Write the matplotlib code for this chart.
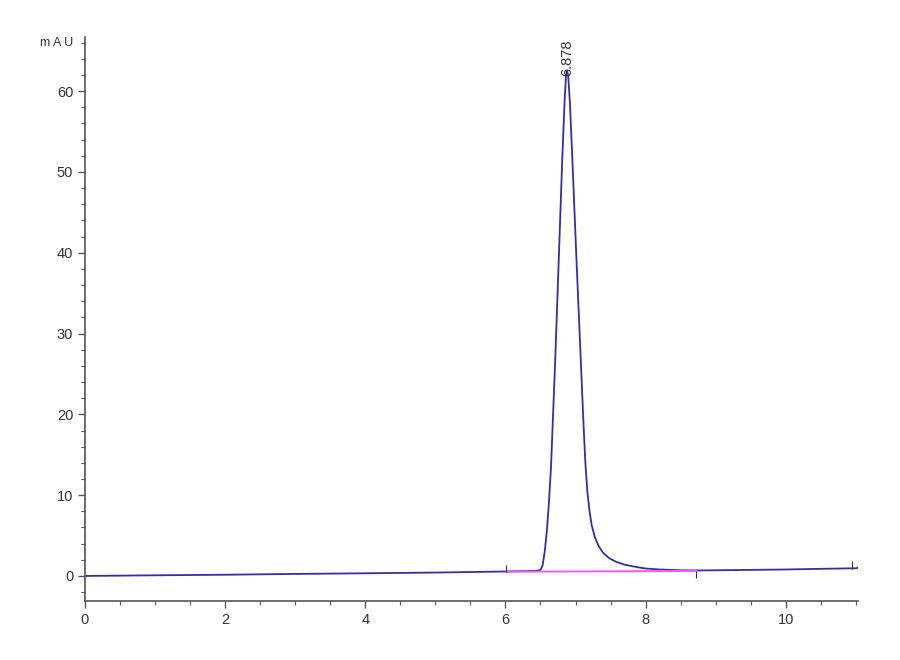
#chromatogram.py

import matplotlib
matplotlib.use("Agg")
import matplotlib.pyplot as plt
from matplotlib.ticker import MultipleLocator

plt.rcParams['font.family'] = ['Liberation Sans', 'DejaVu Sans']

# signal trace (min, mAU)
time = [0.0, 1.0, 2.0, 3.0, 4.0, 5.0, 6.0, 6.3, 6.45, 6.5, 6.53, 6.56, 6.59,
        6.62, 6.65, 6.71, 6.76, 6.81, 6.845, 6.865, 6.878, 6.895, 6.92, 6.955,
        7.014, 7.075, 7.11, 7.14, 7.17, 7.20, 7.23, 7.275, 7.33, 7.39, 7.48,
        7.58, 7.70, 7.87, 8.0, 8.2, 8.5, 8.73, 9.0, 9.5, 10.0, 10.5, 11.0,
        11.03]
signal = [0.0, 0.08, 0.15, 0.25, 0.33, 0.42, 0.55, 0.6, 0.65, 0.75, 1.3, 3.0,
          5.5, 9.0, 13.5, 26.7, 39.0, 51.5, 59.0, 62.0, 62.5, 62.0, 58.5, 51.5,
          39.0, 26.7, 19.5, 14.0, 10.3, 8.0, 6.3, 4.8, 3.7, 2.9, 2.2,
          1.75, 1.4, 1.1, 0.92, 0.8, 0.7, 0.68, 0.7, 0.75, 0.8, 0.88, 0.95,
          1.0]

# integration baseline of the peak
base_t = [6.01, 8.72]
base_y = [0.52, 0.62]

# integration event marks
event_t = [6.01, 8.72, 10.94]
event_lo = [0.5, -0.3, 0.9]
event_hi = [1.4, 0.62, 1.8]

peak_rt = 6.878
peak_h = 62.5

fig = plt.figure(figsize=(9, 6.6), dpi=100, facecolor='white')
ax = fig.add_axes([0.0944, 0.0894, 0.8589, 0.8545])

ax.plot(time, signal, color='#3030a8', lw=1.3)
ax.plot(base_t, base_y, color='#ff55ff', lw=1.4)
ax.vlines(event_t, event_lo, event_hi, color='#333333', lw=0.8)

ax.text(peak_rt, peak_h - 0.6, '%.3f' % peak_rt, rotation=90,
        ha='center', va='bottom', fontsize=10.5, color='#333333')

ax.set_xlim(0, 11.03)
ax.set_ylim(-3.1, 66.7)
ax.set_xticks([0, 2, 4, 6, 8, 10])
ax.set_yticks([0, 10, 20, 30, 40, 50, 60])
ax.xaxis.set_minor_locator(MultipleLocator(0.5))
ax.yaxis.set_minor_locator(MultipleLocator(2))

for s in ['top', 'right']:
    ax.spines[s].set_visible(False)
for s in ['left', 'bottom']:
    ax.spines[s].set_color('#555555')
    ax.spines[s].set_linewidth(1.2)

ax.tick_params(which='major', length=5, width=1, color='#555555',
               labelsize=10.5, labelcolor='#333333')
ax.tick_params(which='minor', length=3, width=0.8, color='#555555')

ax.text(-0.015, 66.0, 'm A U', transform=ax.get_yaxis_transform(),
        ha='right', va='center', fontsize=9, color='#333333')

fig.savefig('out.png', dpi=100)
